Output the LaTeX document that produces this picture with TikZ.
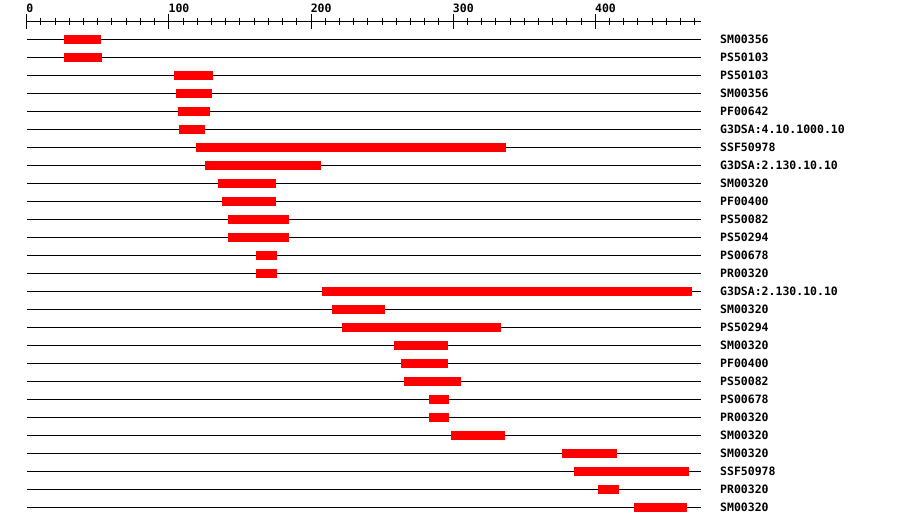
\documentclass[tikz,border=0pt]{standalone}
\usepackage{fontspec}
\newfontfamily\pixfont{DejaVu Sans Mono}
\begin{document}
\begin{tikzpicture}[x=1pt,y=-1pt,
  rowline/.style={black,line width=1pt},
  bar/.style={fill=red,draw=none},
  lbl/.style={anchor=base west,inner sep=0pt,font=\pixfont\bfseries\fontsize{11.5}{12}\selectfont},
  tick/.style={black,line width=1pt}]
\useasboundingbox[fill=white] (0,0) rectangle (900,526);
% axis
\draw[tick] (26.7,21.3) -- (701,21.3);
\foreach \v in {0,10,...,470} {
  \draw[tick] ({26.7+1.4215*\v},18) -- ({26.7+1.4215*\v},25);
}
\foreach \v in {0,100,200,300,400} {
  \draw[tick] ({26.7+1.4215*\v},14) -- ({26.7+1.4215*\v},29);
  \node[lbl] (ax\v) at ({26.3+1.4215*\v},12.2) {\v};
}
% rows: index/start/end/label
\foreach \i/\a/\b/\t in {
 0/64/101/SM00356,
 1/64/102/PS50103,
 2/174/213/PS50103,
 3/176/212/SM00356,
 4/178/210/PF00642,
 5/179/205/G3DSA:4.10.1000.10,
 6/196/506/SSF50978,
 7/205/321/G3DSA:2.130.10.10,
 8/218/276/SM00320,
 9/222/276/PF00400,
 10/228/289/PS50082,
 11/228/289/PS50294,
 12/256/277/PS00678,
 13/256/277/PR00320,
 14/322/692/G3DSA:2.130.10.10,
 15/332/385/SM00320,
 16/342/501/PS50294,
 17/394/448/SM00320,
 18/401/448/PF00400,
 19/404/461/PS50082,
 20/429/449/PS00678,
 21/429/449/PR00320,
 22/451/505/SM00320,
 23/562/617/SM00320,
 24/574/689/SSF50978,
 25/598/619/PR00320,
 26/634/687/SM00320} {
  \pgfmathsetmacro{\yy}{39.3+18*\i}
  \draw[rowline] (26.7,\yy) -- (701,\yy);
  \fill[bar] (\a,{\yy-4.5}) rectangle (\b,{\yy+4.5});
  \node[lbl] (lab\i) at (720,{\yy+4.2}) {\t};
}
\end{tikzpicture}
\end{document}
